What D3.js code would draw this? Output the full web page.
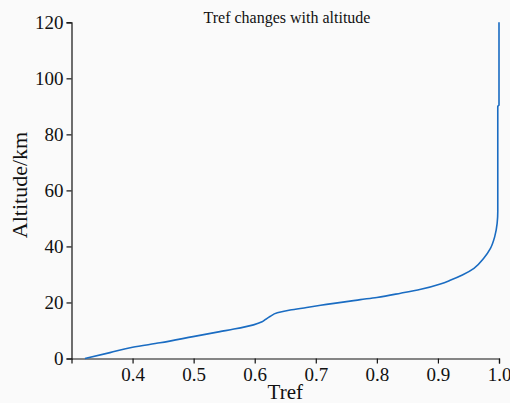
<html>
<head>
<meta charset="utf-8">
<title>Tref changes with altitude</title>
<script src="https://d3js.org/d3.v7.min.js"></script>
<style>
body { margin: 0; background: #fafafa; }
text { font-family: "Liberation Serif", "Times New Roman", serif; fill: #111; }
.axis path, .axis line { stroke: #111; stroke-width: 1.2; }
.axis text { font-size: 19px; font-family: "Liberation Serif", serif; fill: #111; }
.curve { fill: none; stroke: #1a6cc2; stroke-width: 1.6; }
</style>
</head>
<body>
<div id="chart"></div>
<script>
// values
var tref = [0.322, 0.363, 0.400, 0.445, 0.499, 0.543, 0.566, 0.598, 0.612, 0.618,
            0.625, 0.637, 0.658, 0.685, 0.708, 0.773, 0.800, 0.839, 0.872, 0.904,
            0.921, 0.940, 0.959, 0.975, 0.986, 0.993, 0.997, 0.998, 0.998, 0.998,
            1.000, 1.000];
var altitude = [0, 2.1, 4.0, 5.6, 7.8, 9.6, 10.5, 12.0, 13.1, 14.0,
                15.0, 16.3, 17.3, 18.2, 19.0, 21.0, 21.8, 23.3, 24.7, 26.6,
                28.0, 29.8, 32.2, 35.8, 39.3, 43.5, 48.3, 52.5, 70, 90,
                90.5, 120];
var xTicks = [0.4, 0.5, 0.6, 0.7, 0.8, 0.9, 1.0];
var yTicks = [0, 20, 40, 60, 80, 100, 120];

var svg = d3.select("#chart").append("svg")
    .attr("width", 510)
    .attr("height", 403),
    margin = {top: 22.3, right: 11, bottom: 44.5, left: 71.5},
    width = 510 - margin.left - margin.right,
    height = 403 - margin.top - margin.bottom;

var x = d3.scaleLinear().domain([0.3, 1.0]).range([0, width]),
    y = d3.scaleLinear().domain([0, 120]).range([height, 0]);

var g = svg.append("g")
    .attr("transform", "translate(" + margin.left + "," + margin.top + ")");

// x axis
g.append("g")
    .attr("class", "axis axis--x")
    .attr("transform", "translate(0," + height + ")")
    .call(d3.axisBottom(x).tickValues(xTicks).tickFormat(d3.format(".1f")).tickSizeOuter(0).tickSize(5).tickPadding(4));

// y axis
g.append("g")
    .attr("class", "axis axis--y")
    .call(d3.axisLeft(y).tickValues(yTicks).tickSizeOuter(0).tickSize(5).tickPadding(3));

g.selectAll(".axis text").attr("font-family", null);

var data = tref.map(function(d, i) { return {t: d, a: altitude[i]}; });

var line = d3.line()
    .x(function(d) { return x(d.t); })
    .y(function(d) { return y(d.a); })
    .curve(d3.curveMonotoneY);

g.append("path")
    .datum(data)
    .attr("class", "curve")
    .attr("d", line);

// title and labels
svg.append("text")
    .attr("x", 287)
    .attr("y", 23)
    .attr("text-anchor", "middle")
    .style("font-size", "16px")
    .text("Tref changes with altitude");

svg.append("text")
    .attr("x", margin.left + width / 2)
    .attr("y", 399)
    .attr("text-anchor", "middle")
    .style("font-size", "21px")
    .text("Tref");

svg.append("text")
    .attr("transform", "translate(27,185) rotate(-90)")
    .attr("text-anchor", "middle")
    .style("font-size", "22px")
    .text("Altitude/km");
</script>
</body>
</html>
